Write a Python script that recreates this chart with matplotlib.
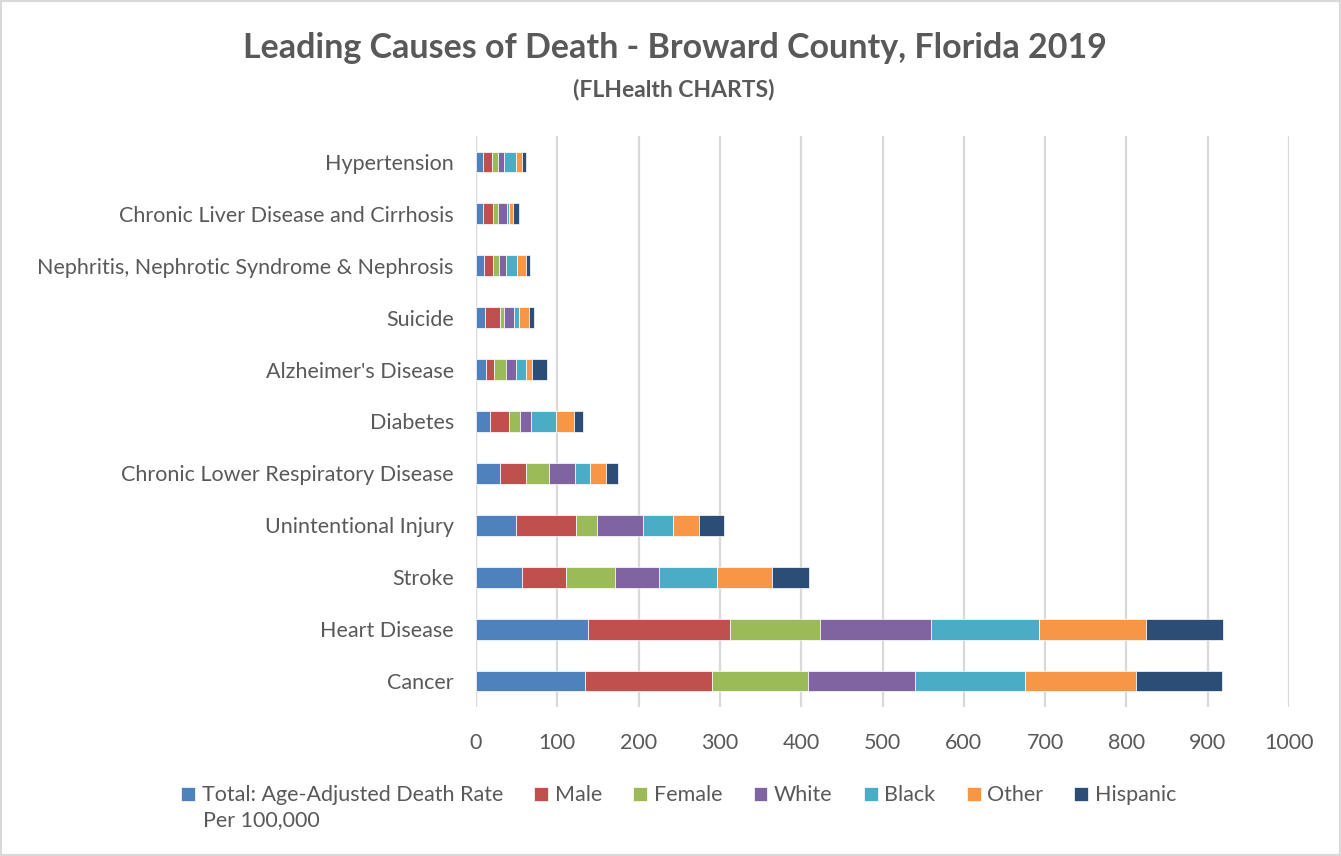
import numpy as np
import matplotlib
matplotlib.use("Agg")
from matplotlib import pyplot as plt
from matplotlib.patches import Rectangle

# causes, bottom to top (as Excel draws them)
causes = ["Cancer", "Heart Disease", "Stroke", "Unintentional Injury",
          "Chronic Lower Respiratory Disease", "Diabetes", "Alzheimer's Disease",
          "Suicide", "Nephritis, Nephrotic Syndrome & Nephrosis",
          "Chronic Liver Disease and Cirrhosis", "Hypertension"]

total = [134, 138, 57, 49, 29, 17, 12.3, 10.7, 9.5, 9.0, 8.6]
male = [156, 175, 54, 74, 32.5, 24, 9.9, 18.5, 11.9, 11.6, 10.7]
female = [118, 110, 60, 26, 28, 13, 14.4, 5.4, 7.4, 6.6, 7.9]
white = [132, 137, 54, 57, 32, 13.5, 12.8, 12.7, 7.8, 11.5, 7.8]
black = [135, 133, 72, 36, 19, 30.5, 12.3, 5.0, 14.4, 2.5, 13.6]
other = [137, 131, 67, 32, 19.5, 22, 6.6, 12.3, 10.7, 4.1, 7.4]
hispanic = [106, 95, 45, 31, 14.5, 11.7, 19.4, 6.2, 4.6, 8.2, 5.3]

series = [total, male, female, white, black, other, hispanic]
names = ["Total: Age-Adjusted Death Rate", "Male", "Female", "White",
         "Black", "Other", "Hispanic"]
colors = ["#4F81BD", "#C0504D", "#9BBB59", "#8064A2", "#4BACC6", "#F79646", "#2C4D75"]

plt.rcParams['font.family'] = ['Lato', 'DejaVu Sans']
txt = "#595959"

fig = plt.figure(figsize=(13.41, 8.56), dpi=100)
ax = fig.add_axes([476/1341, 1-707/856, 813/1341, 571/856])

y = np.arange(len(causes))
left = np.zeros(len(causes))
for vals, name, col in zip(series, names, colors):
    ax.barh(y, vals, left=left, height=0.4, color=col, edgecolor="white",
            linewidth=0.5, label=name, zorder=3)
    left += np.array(vals)

ax.set_xlim(0, 1000)
ax.set_ylim(-0.5, len(causes)-0.5)
ax.set_xticks(np.arange(0, 1001, 100))
ax.set_yticks(y)
ax.set_yticklabels(causes)
ax.grid(axis="x", color="#D9D9D9", linewidth=1.6, zorder=0)
ax.axvline(0, color="#D9D9D9", linewidth=1.6, zorder=1)
for s in ax.spines.values():
    s.set_visible(False)
ax.tick_params(axis="x", length=0, pad=19, labelsize=15.5, labelcolor=txt)
ax.tick_params(axis="y", length=0, pad=16, labelsize=15.5, labelcolor=txt)

fig.text(675/1341, 1-48/856, "Leading Causes of Death - Broward County, Florida 2019",
         ha="center", va="center", fontsize=24.5, fontweight="bold", color=txt)
fig.text(674/1341, 1-89/856, "(FLHealth CHARTS)", ha="center", va="center",
         fontsize=16.5, fontweight="bold", color=txt)

leg = ax.legend(loc="upper left", bbox_to_anchor=(162/1341, 1-766/856),
                bbox_transform=fig.transFigure, ncol=7, frameon=False,
                fontsize=15.5, handlelength=0.65, handleheight=0.65,
                handletextpad=0.3, columnspacing=1.45, labelcolor=txt)
fig.text(203/1341, 1-820/856, "Per 100,000", ha="left", va="center",
         fontsize=15.5, color=txt)

fig.patches.append(Rectangle((0.001, 0.001), 0.998, 0.998, transform=fig.transFigure,
                             fill=False, edgecolor="#D9D9D9", linewidth=1.5))

fig.savefig("out.png", dpi=100)
